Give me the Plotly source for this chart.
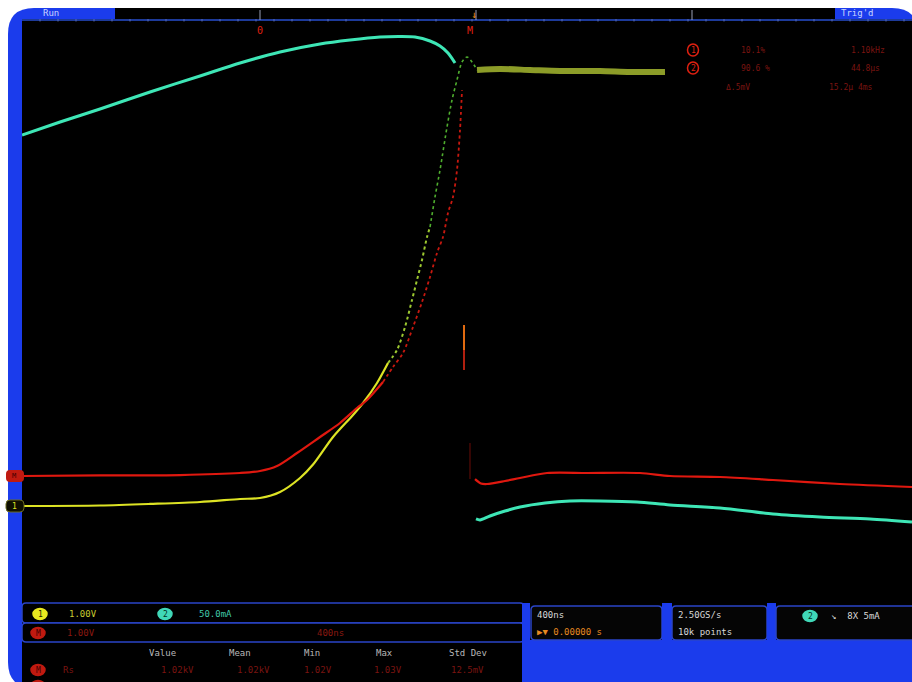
import plotly.graph_objects as go

# 示波器截图复刻: 400ns/div, 时间单位 ns, 纵轴单位 div
W, H = 912, 682

# CH2 电流 (青色), 触发前 / 触发后
ch2_pre_t = [-2022.5, -1851.5, -1671.8, -1447.1, -1222.4, -1042.6, -862.8, -683.1, -548.3,
             -413.5, -323.6, -256.2, -188.7, -143.8, -107.9, -76.4]
ch2_pre_v = [2.422, 2.600, 2.779, 3.012, 3.232, 3.410, 3.561, 3.671, 3.726,
             3.767, 3.774, 3.767, 3.712, 3.643, 3.547, 3.410]
ch2_post_t = [18.0, 36.0, 80.9, 148.3, 215.7, 328.1, 440.4, 575.2, 741.5, 889.8,
              1114.5, 1352.7, 1563.9, 1788.6, 1977.5]
ch2_post_v = [-2.847, -2.861, -2.806, -2.738, -2.683, -2.628, -2.600, -2.600, -2.614, -2.655,
              -2.696, -2.779, -2.820, -2.847, -2.888]

# Math (红色)
m_low_t = [-2022.5, -1671.8, -1312.2, -1042.6, -952.7, -876.3, -786.5, -683.1, -593.2,
           -516.8, -471.9, -400.0]
m_low_v = [-2.257, -2.250, -2.244, -2.216, -2.189, -2.120, -1.942, -1.722, -1.530,
           -1.324, -1.214, -0.967]
m_up_t = [-400.0, -355.0, -310.1, -265.2, -224.7, -188.7, -157.3, -130.3, -107.9, -85.4, -67.4, -53.9, -44.9]
m_up_v = [-0.967, -0.761, -0.569, -0.213, 0.130, 0.473, 0.803, 1.022, 1.352, 1.571, 1.942, 2.491, 3.040]
m_drop_t = [-9.0, -9.0]
m_drop_v = [-1.804, -2.30]
m_post_t = [13.5, 40.0, 67.4, 148.3, 215.7, 337.1, 516.8, 755.0, 889.8, 1114.5, 1352.7, 1653.8, 1977.5]
m_post_v = [-2.300, -2.360, -2.367, -2.326, -2.285, -2.216, -2.216, -2.216, -2.257, -2.271,
            -2.312, -2.367, -2.408]

# CH1 电压 (黄 -> 绿)
ch1_low_t = [-2022.5, -1671.8, -1447.1, -1222.4, -1042.6, -952.7, -862.8, -773.0, -714.5,
             -624.7, -534.8, -489.8, -426.9, -377.5]
ch1_low_v = [-2.669, -2.662, -2.641, -2.614, -2.573, -2.559, -2.477, -2.285, -2.100,
             -1.722, -1.420, -1.256, -0.981, -0.707]
ch1_mid_t = [-377.5, -337.0, -301.1, -269.6, -247.2, -224.7, -202.2, -188.7]
ch1_mid_v = [-0.707, -0.528, -0.213, 0.158, 0.432, 0.707, 1.022, 1.159]
ch1_up_t = [-188.7, -166.3, -143.8, -112.3, -89.9, -67.4, -44.9, -22.5, 0.0, 22.5]
ch1_up_v = [1.159, 1.571, 1.942, 2.532, 2.902, 3.177, 3.424, 3.492, 3.424, 3.314]
ch1_flat_t = [22.5, 125.8, 260.7, 395.5, 575.2, 710.1, 867.3]
ch1_flat_v = [3.314, 3.328, 3.314, 3.300, 3.300, 3.287, 3.287]

spike_t = [-36.0, -36.0]
spike_top_v = [-0.185, -0.53]
spike_bot_v = [-0.53, -0.803]

BLUE = "#1b3cec"
LINE_BLUE = "#2a44c8"
FONT = "DejaVu Sans Mono"


def X(px):
    return px / W


def Y(py):
    return 1 - py / H


fig = go.Figure()


def add(t, v, color, width=2.2, dash=None, opacity=1.0, shape="spline"):
    fig.add_trace(go.Scatter(x=t, y=v, mode="lines", opacity=opacity,
                             line=dict(color=color, width=width, dash=dash, shape=shape, smoothing=0.8),
                             hoverinfo="skip"))


add(ch1_flat_t, ch1_flat_v, "#8c9c28", width=6)
add(ch1_low_t, ch1_low_v, "#dde324", width=2.2)
add(ch1_mid_t, ch1_mid_v, "#9cc830", width=2, dash="dot")
add(ch1_up_t, ch1_up_v, "#4fae2e", width=1.6, dash="dot")
add(m_low_t, m_low_v, "#e0180f", width=2.2)
add(m_up_t, m_up_v, "#c8180f", width=1.8, dash="dot")
add(m_drop_t, m_drop_v, "#5a0a06", width=1.2, shape="linear")
add(m_post_t, m_post_v, "#e0180f", width=2.2)
add(ch2_pre_t, ch2_pre_v, "#3ee6b6", width=3)
add(ch2_post_t, ch2_post_v, "#3ee6b6", width=3)
add(spike_t, spike_top_v, "#e06a10", width=2, shape="linear")
add(spike_t, spike_bot_v, "#b0200f", width=2, shape="linear")

shapes = []


def rect(x0, y0, x1, y1, fill, line=None, lw=0):
    shapes.append(dict(type="rect", xref="paper", yref="paper", x0=X(x0), x1=X(x1), y0=Y(y1), y1=Y(y0),
                       fillcolor=fill, line=dict(color=line or fill, width=lw), layer="below"))


def rrect(x0, y0, x1, y1, r, fill, line=None, lw=0, layer="below"):
    p = (f"M {X(x0 + r)},{Y(y0)} L {X(x1 - r)},{Y(y0)} Q {X(x1)},{Y(y0)} {X(x1)},{Y(y0 + r)} "
         f"L {X(x1)},{Y(y1 - r)} Q {X(x1)},{Y(y1)} {X(x1 - r)},{Y(y1)} "
         f"L {X(x0 + r)},{Y(y1)} Q {X(x0)},{Y(y1)} {X(x0)},{Y(y1 - r)} "
         f"L {X(x0)},{Y(y0 + r)} Q {X(x0)},{Y(y0)} {X(x0 + r)},{Y(y0)} Z")
    shapes.append(dict(type="path", xref="paper", yref="paper", path=p, fillcolor=fill,
                       line=dict(color=line or fill, width=lw), layer=layer))


def hline(x0, x1, y, color, w=1.5):
    shapes.append(dict(type="line", xref="paper", yref="paper", x0=X(x0), x1=X(x1), y0=Y(y), y1=Y(y),
                       line=dict(color=color, width=w), layer="below"))


def vline(x, y0, y1, color, w=1):
    shapes.append(dict(type="line", xref="paper", yref="paper", x0=X(x), x1=X(x), y0=Y(y0), y1=Y(y1),
                       line=dict(color=color, width=w), layer="below"))


# 外框
rrect(8, 8, 918, 688, 26, BLUE)
# 主屏幕 + 状态栏
rect(22, 20, 912, 603, "#000000")
rect(115, 8, 835, 20, "#000000")
hline(22, 912, 20, "#1d3a9a", 2)
for px in range(40, 912, 18):
    vline(px, 19, 21.5, "#5a6ab0", 1)
for px in (260, 476, 692):
    vline(px, 10, 20, "#9aa0b8", 1)
# 底部左侧面板
rect(22, 603, 522, 682, "#000000")
rrect(22, 603, 524, 623, 4, "#000000", LINE_BLUE, 1.5)
rrect(22, 623, 524, 642, 4, "#000000", LINE_BLUE, 1.5)
# 底部右侧面板
rect(522, 603, 912, 640, "#000000")
rect(522, 640, 912, 682, BLUE)
rect(522, 603, 530, 640, BLUE)
rrect(531, 606, 662, 640, 4, "#050505", LINE_BLUE, 1.5)
rect(662, 603, 672, 640, BLUE)
rrect(672, 606, 767, 640, 4, "#050505", LINE_BLUE, 1.5)
rect(767, 603, 776, 640, BLUE)
rrect(776, 606, 930, 640, 4, "#050505", LINE_BLUE, 1.5)

annotations = []


def txt(px, py, s, color, size=9, anchor="left", bg=None):
    annotations.append(dict(x=X(px), y=Y(py), xref="paper", yref="paper", text=s, showarrow=False,
                            xanchor=anchor, yanchor="middle",
                            font=dict(family=FONT, size=size, color=color),
                            bgcolor=bg, borderpad=0))


def badge(px, py, s, fill, color, w=14, h=11, outline=None):
    shapes.append(dict(type="circle", xref="paper", yref="paper", x0=X(px - w / 2), x1=X(px + w / 2),
                       y0=Y(py + h / 2), y1=Y(py - h / 2), fillcolor=fill,
                       line=dict(color=outline or fill, width=1.5), layer="above"))
    if s:
        txt(px, py, s, color, size=8, anchor="center")


# 顶部状态文字
txt(42, 13, "Run", "#c8d4ff", 9)
txt(840, 13, "Trig'd", "#c8d4ff", 9)
# 顶部标记
txt(260, 31, "0", "#e02010", 10, "center")
txt(470, 31, "M", "#e02010", 10, "center")
txt(474, 15, "↓", "#f08a10", 10, "center")
# 右上测量区
badge(693, 50, "1", "#000000", "#e02010", w=11, h=12, outline="#e02010")
badge(693, 68, "2", "#000000", "#e02010", w=11, h=12, outline="#e02010")
txt(740, 50, "10.1%", "#7a1410", 8)
txt(850, 50, "1.10kHz", "#7a1410", 8)
txt(740, 68, "90.6 %", "#7a1410", 8)
txt(850, 68, "44.8μs", "#7a1410", 8)
txt(725, 87, "Δ.5mV", "#7a1410", 8)
txt(828, 87, "15.2μ 4ms", "#7a1410", 8)
# 左侧通道标记
rrect(6, 470, 24, 482, 4, "#c01a10", layer="above")
txt(14, 476, "M", "#400000", 7, "center")
rrect(6, 500, 24, 512, 4, "#101000", "#6a6a20", 1, layer="above")
txt(14, 506, "1", "#dde324", 8, "center")
# 底部左侧文字
badge(40, 614, "1", "#e8e820", "#202000")
txt(68, 614, "1.00V", "#c8cc30", 9)
badge(165, 614, "2", "#40d8b8", "#003020")
txt(198, 614, "50.0mA", "#40c8a8", 9)
badge(38, 633, "M", "#c01a10", "#400000")
txt(66, 633, "1.00V", "#8a1810", 9)
txt(316, 633, "400ns", "#8a1810", 9)
txt(148, 653, "Value", "#b8b8b8", 9)
txt(228, 653, "Mean", "#b8b8b8", 9)
txt(303, 653, "Min", "#b8b8b8", 9)
txt(375, 653, "Max", "#b8b8b8", 9)
txt(448, 653, "Std Dev", "#b8b8b8", 9)
badge(38, 670, "M", "#c01a10", "#400000")
txt(62, 670, "Rs", "#7a1410", 9)
txt(160, 670, "1.02kV", "#7a1410", 9)
txt(236, 670, "1.02kV", "#7a1410", 9)
txt(303, 670, "1.02V", "#7a1410", 9)
txt(373, 670, "1.03V", "#7a1410", 9)
txt(450, 670, "12.5mV", "#7a1410", 9)
badge(38, 686, "", "#c01a10", "#400000")
# 底部右侧文字
txt(536, 615, "400ns", "#d8d8d8", 9)
txt(536, 632, "▶▼ 0.00000 s", "#e88a20", 9)
txt(677, 615, "2.50GS/s", "#d8d8d8", 9)
txt(677, 632, "10k points", "#d8d8d8", 9)
badge(810, 616, "2", "#40d8b8", "#003020")
txt(830, 616, "↘  8X 5mA", "#d8d8d8", 9)

fig.update_layout(
    width=W, height=H, margin=dict(l=0, r=0, t=0, b=0),
    paper_bgcolor="#ffffff", plot_bgcolor="rgba(0,0,0,0)",
    showlegend=False, shapes=shapes, annotations=annotations,
    xaxis=dict(domain=[X(22), 1], range=[-2022.5, 1977.5], visible=False, fixedrange=True),
    yaxis=dict(domain=[Y(603), Y(20)], range=[-4, 4], visible=False, fixedrange=True),
)

# 页面默认 8px 边距会让图整体偏移, 去掉
fig.write_html("out.html", config={"displayModeBar": False},
               post_script="document.body.style.margin='0';document.body.style.overflow='hidden';")
